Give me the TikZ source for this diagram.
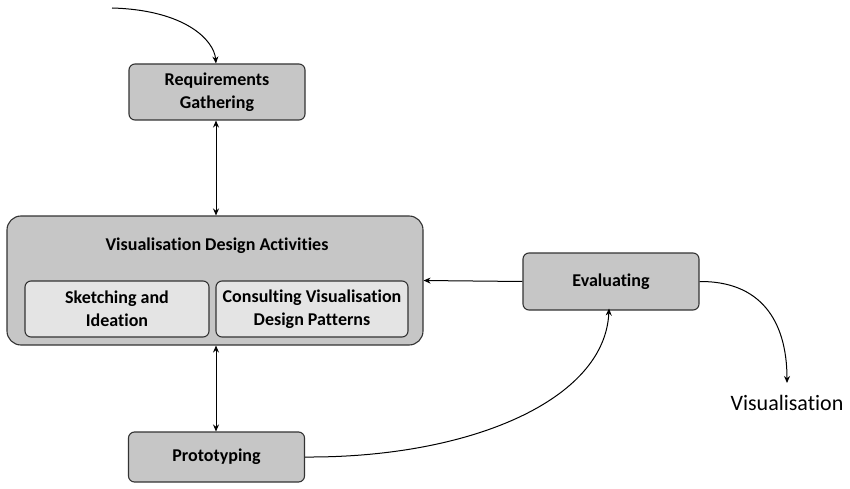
\documentclass[tikz,border=0pt]{standalone}
\usepackage{fontspec}
\setmainfont{Carlito}[Ligatures=NoCommon]
\usetikzlibrary{arrows.meta}
\definecolor{boxgrey}{HTML}{C6C6C6}
\definecolor{innergrey}{HTML}{E4E4E4}
\definecolor{edgegrey}{HTML}{333333}
\tikzset{
  labelfont/.style={font=\bfseries\fontsize{18}{23}\selectfont},
  stage/.style={draw=edgegrey, line width=1.1pt, fill=boxgrey, rounded corners=6pt,
    align=center, labelfont, inner sep=0pt},
  subbox/.style={draw=edgegrey, line width=1.1pt, fill=innergrey, rounded corners=6pt,
    align=center, labelfont, inner sep=0pt},
  flow/.style={line width=1pt, -{Stealth[length=7pt,width=6pt]}},
  twoway/.style={line width=1pt, {Stealth[length=7pt,width=6pt]}-{Stealth[length=7pt,width=6pt]}}
}
\begin{document}
\begin{tikzpicture}[x=1pt,y=-1pt]
  \useasboundingbox (0,0) rectangle (850,489);
  % process stages
  \node[stage, minimum width=176pt, minimum height=56pt] (req) at (217,92) {Requirements\\Gathering};
  \node[stage, minimum width=416pt, minimum height=129pt, rounded corners=14pt] (vda) at (215,280.5) {};
  \node[labelfont] (vdatitle) at (217,246) {Visualisation Design Activities};
  \node[subbox, minimum width=184pt, minimum height=56pt] (sketch) at (117,309) {Sketching and\\Ideation};
  \node[subbox, minimum width=192pt, minimum height=56pt] (consult) at (312,309) {Consulting Visualisation\\Design Patterns};
  \node[stage, minimum width=176pt, minimum height=50pt] (proto) at (216.5,457) {Prototyping};
  \node[stage, minimum width=176pt, minimum height=57pt] (eval) at (611,281.5) {Evaluating};
  \node[font=\fontsize{22}{26}\selectfont] (out) at (787,403) {Visualisation};
  \coordinate (start) at (112,8);
  \coordinate (outtip) at (787,383);
  % connectors
  \draw[flow] (start) .. controls (185,10) and (214,40) .. (req.north -| 216,0);
  \draw[twoway] (req.south -| 216,0) -- (vda.north -| 216,0);
  \draw[twoway] (vda.south -| 216,0) -- (proto.north -| 216,0);
  \draw[flow] (eval.west) -- (vda.east);
  \draw[flow] (proto.east) .. controls (470,458) and (605,400) .. ([yshift=2pt]eval.south -| 609,0);
  \draw[flow] (eval.east) .. controls (760,281) and (787,320) .. (outtip);
\end{tikzpicture}
\end{document}
